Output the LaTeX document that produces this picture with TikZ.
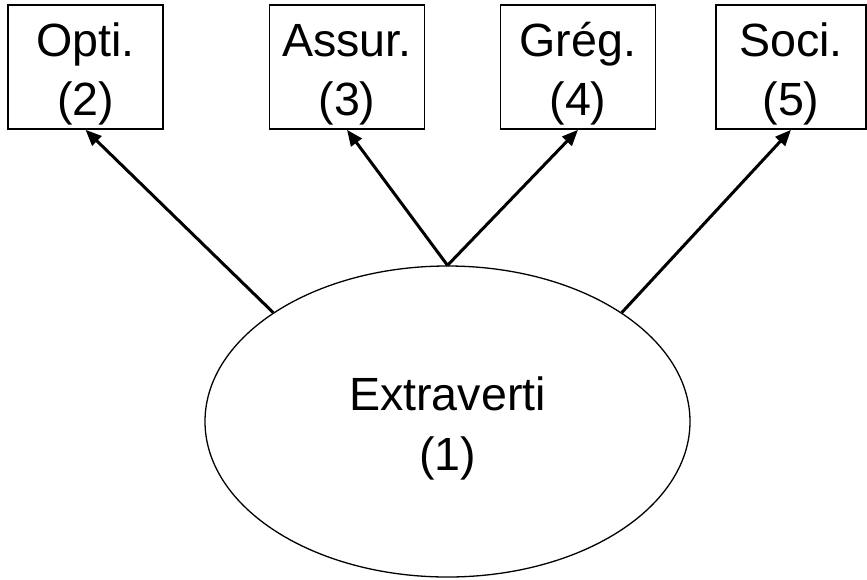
\documentclass[tikz,border=0pt]{standalone}
\usepackage{fontspec}
\setmainfont{Liberation Sans}
\usetikzlibrary{shapes.geometric,arrows.meta}

\begin{document}
\begin{tikzpicture}[x=0.5pt,y=-0.5pt]
        \tikzset{
            ItemStyle/.style = {
                draw,
                shape = rectangle,
                line width = 0.8pt,
                inner sep = 0pt,
                minimum width = 77.5pt,
                minimum height = 62pt,
                align = center,
                font = \fontsize{23.3}{29.5}\selectfont},
            FactorStyle/.style = {
                draw,
                shape = ellipse,
                line width = 0.65pt,
                inner sep = 0pt,
                minimum width = 242.5pt,
                minimum height = 155.5pt,
                align = center,
                font = \fontsize{23.3}{30}\selectfont},
            LoadStyle/.style = {
                -{Triangle[length = 8pt, width = 6.5pt]},
                line width = 1.5pt}
                }
    \useasboundingbox (0,0) rectangle (867,579);
    \node[FactorStyle] (Extra) at (447.5,421.5) {\rule{0pt}{24pt}Extraverti\\(1)};
    \node[ItemStyle] (Opti) at (85.5,67) {\rule{0pt}{24pt}Opti.\\(2)};
    \node[ItemStyle] (Assur) at (347,67) {\rule{0pt}{24pt}Assur.\\(3)};
    \node[ItemStyle] (Greg) at (578,67) {\rule{0pt}{24pt}Grég.\\(4)};
    \node[ItemStyle, minimum width = 75pt] (Soci) at (791,67) {\rule{0pt}{24pt}Soci.\\(5)};
        \draw[LoadStyle] (Extra.148) -- (Opti.south);
        \draw[LoadStyle] (Extra.north) -- (Assur.south);
        \draw[LoadStyle] (Extra.north) -- (Greg.south);
        \draw[LoadStyle] (Extra.32) -- (Soci.south);
\end{tikzpicture}
\end{document}
